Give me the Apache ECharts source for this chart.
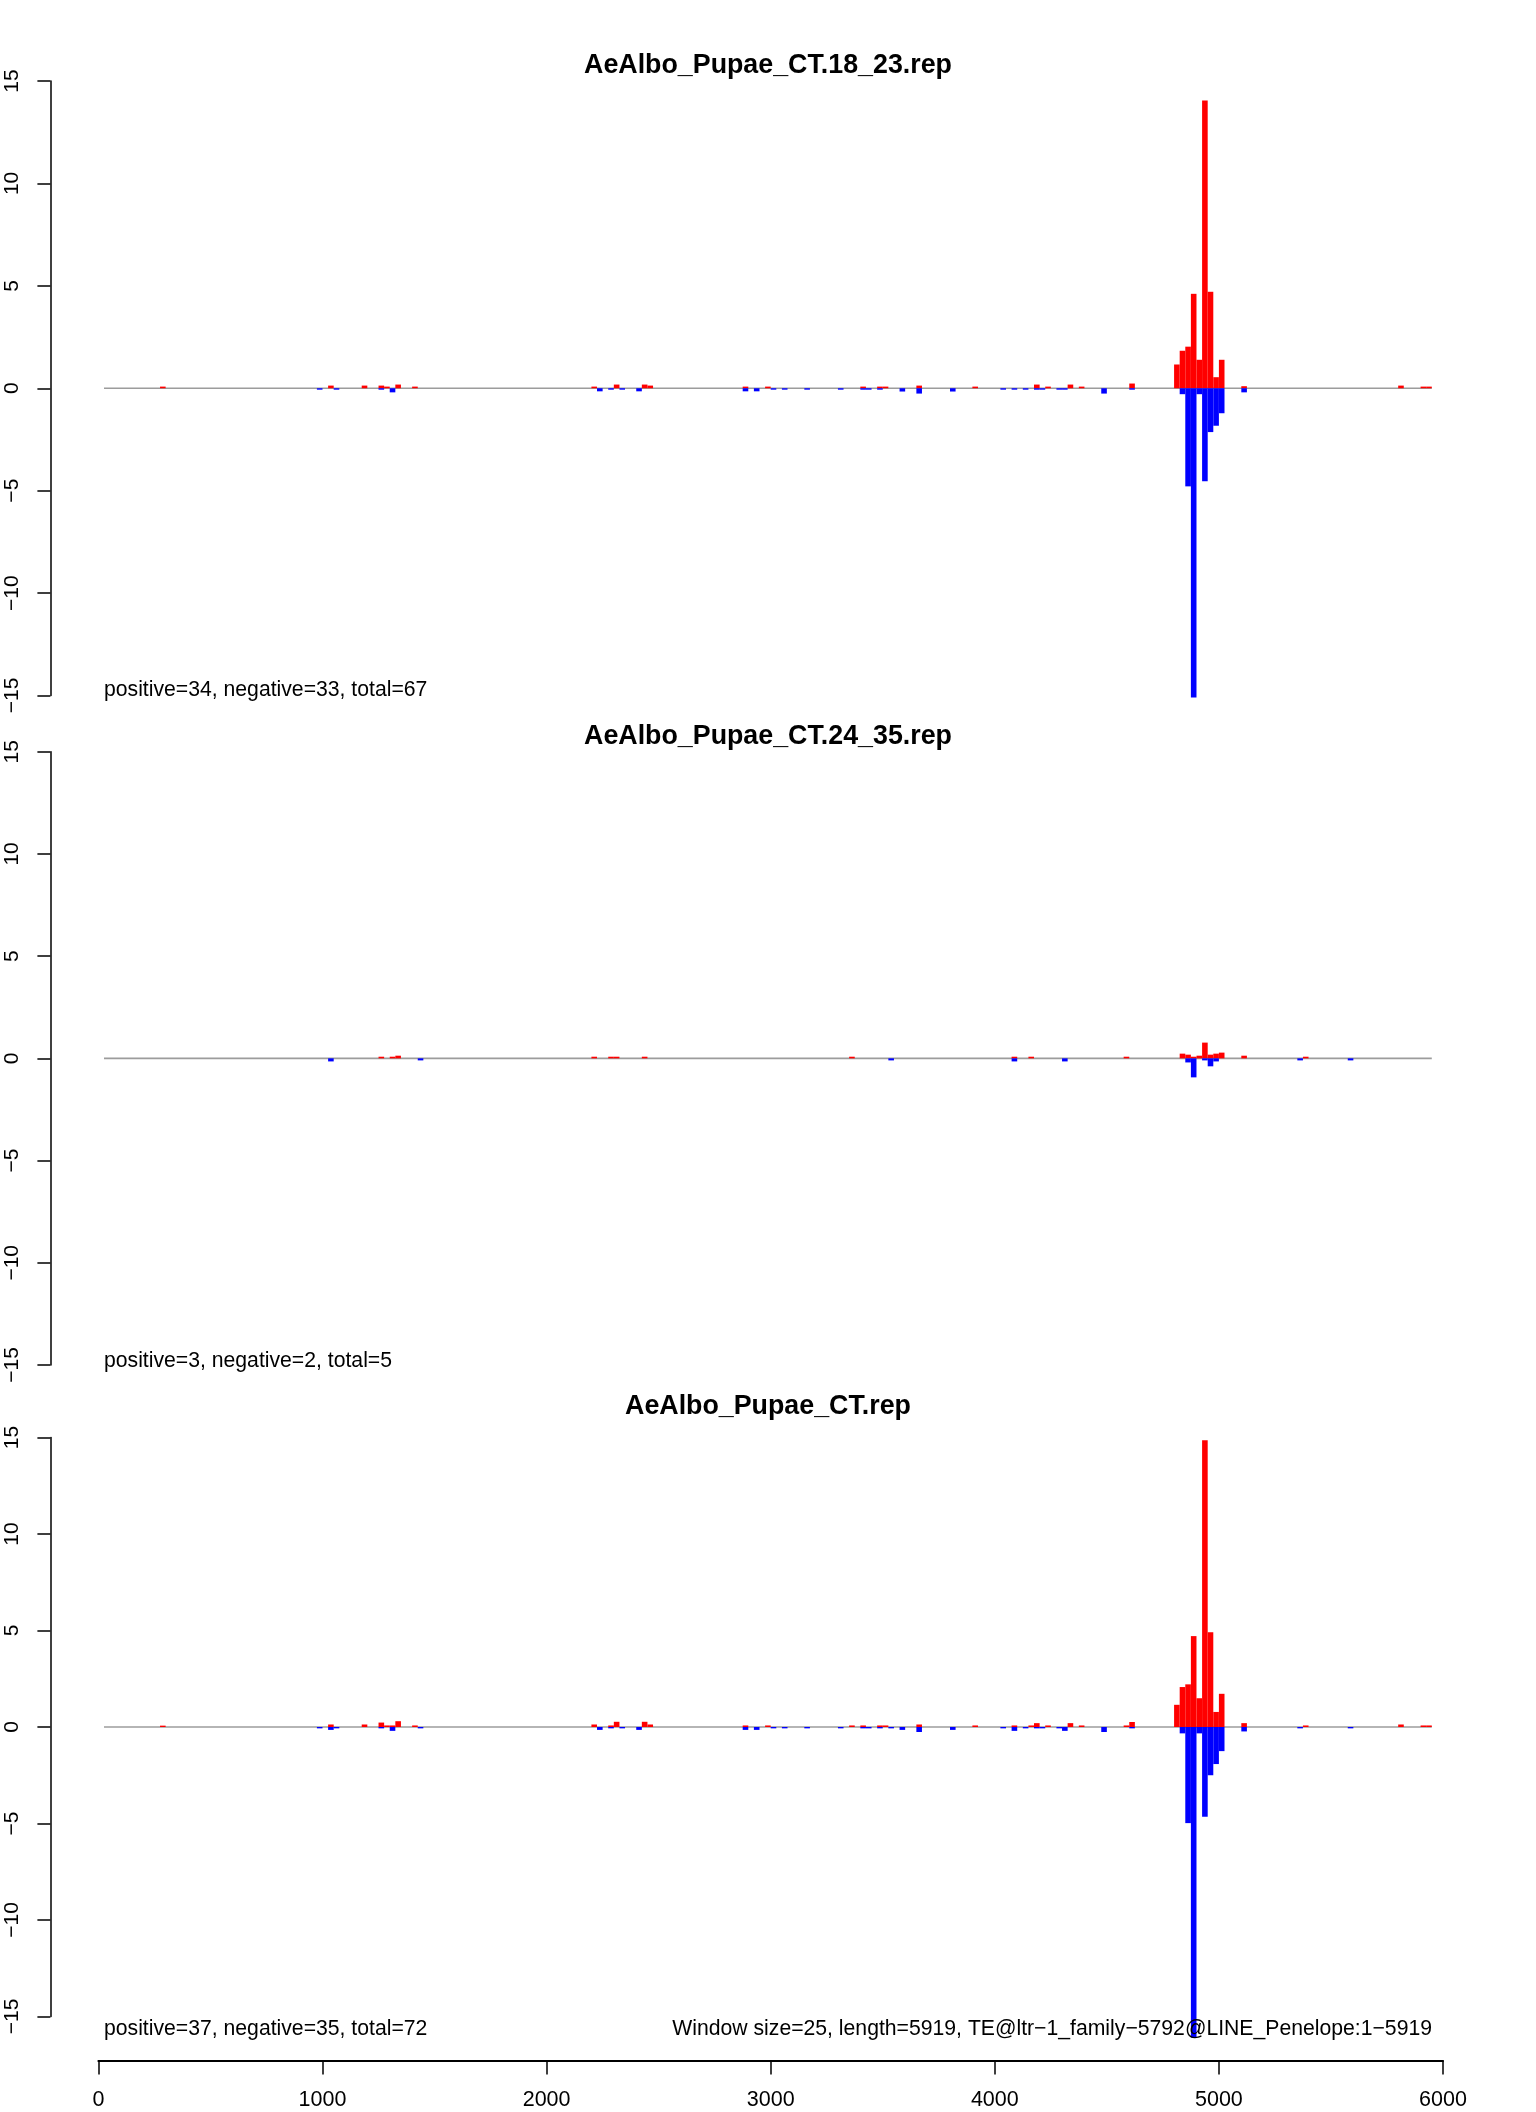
<!DOCTYPE html>
<html>
<head>
<meta charset="utf-8">
<script src="https://cdn.jsdelivr.net/npm/echarts@6/dist/echarts.min.js"></script>
<style>
html,body{margin:0;padding:0;background:#fff;}
#chart{width:1536px;height:2112px;}
</style>
</head>
<body>
<div id="chart"></div>
<script>
// ---- data (window size 25; bin start positions) ----
const BIN = 25;
const panelTitles = ['AeAlbo_Pupae_CT.18_23.rep', 'AeAlbo_Pupae_CT.24_35.rep', 'AeAlbo_Pupae_CT.rep'];
const panelNotes = ['positive=34, negative=33, total=67', 'positive=3, negative=2, total=5', 'positive=37, negative=35, total=72'];
const footNote = 'Window size=25, length=5919, TE@ltr\u22121_family\u22125792@LINE_Penelope:1\u22125919';
const xTicks = [0, 1000, 2000, 3000, 4000, 5000, 6000];
const yTicks = [-15, -10, -5, 0, 5, 10, 15];
const baseLine = [[25, 0], [5950, 0]];

const p1Pos = [[275,0.08],[1025,0.13],[1175,0.13],[1250,0.13],[1275,0.08],[1325,0.18],[1400,0.08],
  [2200,0.08],[2300,0.18],[2425,0.18],[2450,0.13],[2875,0.08],[2975,0.08],[3400,0.08],[3475,0.08],[3500,0.08],
  [3650,0.13],[3900,0.08],[4175,0.18],[4225,0.08],[4325,0.18],[4375,0.08],[4600,0.23],
  [4800,1.16],[4825,1.83],[4850,2.03],[4875,4.61],[4900,1.39],[4925,14.05],[4950,4.71],[4975,0.54],[5000,1.39],
  [5100,0.1],[5800,0.13],[5900,0.08],[5925,0.08]];
const p1Neg = [[975,-0.07],[1050,-0.07],[1250,-0.07],[1300,-0.2],[2225,-0.15],[2275,-0.07],[2325,-0.07],[2400,-0.15],
  [2875,-0.15],[2925,-0.15],[3000,-0.07],[3050,-0.07],[3150,-0.07],[3300,-0.07],[3400,-0.07],[3425,-0.07],[3475,-0.07],
  [3575,-0.16],[3650,-0.26],[3800,-0.16],[4025,-0.07],[4075,-0.07],[4125,-0.07],[4175,-0.07],[4200,-0.07],[4275,-0.07],
  [4300,-0.07],[4475,-0.26],[4600,-0.07],
  [4825,-0.29],[4850,-4.79],[4875,-15.1],[4900,-0.29],[4925,-4.54],[4950,-2.14],[4975,-1.83],[5000,-1.22],[5100,-0.2]];

const p2Pos = [[1250,0.08],[1300,0.08],[1325,0.13],[2200,0.08],[2275,0.08],[2300,0.08],[2425,0.08],[3350,0.08],
  [4075,0.08],[4150,0.08],[4575,0.08],
  [4825,0.23],[4850,0.18],[4875,0.08],[4900,0.13],[4925,0.77],[4950,0.18],[4975,0.23],[5000,0.28],
  [5100,0.13],[5375,0.08]];
const p2Neg = [[1025,-0.15],[1425,-0.1],[3525,-0.1],[4075,-0.15],[4300,-0.15],
  [4850,-0.2],[4875,-0.93],[4925,-0.1],[4950,-0.39],[4975,-0.15],[5350,-0.1],[5575,-0.1]];

const p3Pos = [[275,0.07],[1025,0.13],[1175,0.13],[1250,0.23],[1275,0.08],[1300,0.08],[1325,0.3],[1400,0.08],
  [2200,0.13],[2275,0.08],[2300,0.27],[2425,0.27],[2450,0.13],[2875,0.08],[2975,0.08],[3350,0.08],[3400,0.08],
  [3475,0.08],[3500,0.08],[3650,0.13],[3900,0.08],[4075,0.08],[4150,0.08],[4175,0.2],[4225,0.08],[4325,0.2],
  [4375,0.08],[4575,0.08],[4600,0.26],
  [4800,1.15],[4825,2.07],[4850,2.21],[4875,4.71],[4900,1.49],[4925,14.86],[4950,4.91],[4975,0.78],[5000,1.72],
  [5100,0.2],[5375,0.08],[5800,0.13],[5900,0.08],[5925,0.08]];
const p3Neg = [[975,-0.07],[1025,-0.15],[1050,-0.07],[1250,-0.07],[1300,-0.2],[1425,-0.07],[2225,-0.15],[2275,-0.07],
  [2325,-0.07],[2400,-0.15],[2875,-0.15],[2925,-0.15],[3000,-0.07],[3050,-0.07],[3150,-0.07],[3300,-0.07],[3400,-0.07],
  [3425,-0.07],[3475,-0.07],[3525,-0.07],[3575,-0.15],[3650,-0.26],[3800,-0.15],[4025,-0.07],[4075,-0.2],[4125,-0.07],
  [4175,-0.07],[4200,-0.07],[4275,-0.07],[4300,-0.2],[4475,-0.26],[4600,-0.07],
  [4825,-0.33],[4850,-4.98],[4875,-16.1],[4900,-0.33],[4925,-4.65],[4950,-2.5],[4975,-1.92],[5000,-1.25],[5100,-0.23],
  [5350,-0.07],[5575,-0.07]];

const posData = [p1Pos, p2Pos, p3Pos];
const negData = [p1Neg, p2Neg, p3Neg];

// ---- layout ----
const FONT = '"Liberation Sans", Arial, Helvetica, sans-serif';
const gridLeft = 98.4, gridWidth = 1344.6;
const grids = [
  {left: gridLeft, top: 81, width: gridWidth, height: 614.5},
  {left: gridLeft, top: 751.7, width: gridWidth, height: 613.3},
  {left: gridLeft, top: 1437.5, width: gridWidth, height: 579}
];
const titleY = [65.5, 736.5, 1406.5];
const noteY = [690, 1361, 2029];

function barRender(color) {
  return function (params, api) {
    const x0 = api.value(0), v = api.value(1);
    const a = api.coord([x0, 0]);
    const b = api.coord([x0 + BIN, v]);
    return {
      type: 'rect',
      shape: {x: a[0], y: Math.min(a[1], b[1]), width: b[0] - a[0], height: Math.abs(b[1] - a[1])},
      style: {fill: color}
    };
  };
}

const xAxes = [], yAxes = [], series = [], graphics = [];
for (let i = 0; i < 3; i++) {
  const last = i === 2;
  xAxes.push({
    gridIndex: i, type: 'value', min: xTicks[0], max: xTicks[xTicks.length - 1], interval: 1000,
    show: last, position: 'bottom', offset: 44,
    axisLine: {show: true, onZero: false, lineStyle: {color: '#000', width: 2}},
    axisTick: {show: true, length: 14, lineStyle: {color: '#000', width: 1.5}},
    axisLabel: {show: true, fontFamily: FONT, fontSize: 21.5, color: '#000', margin: 29,
      formatter: v => String(v)},
    splitLine: {show: false}
  });
  yAxes.push({
    gridIndex: i, type: 'value', min: yTicks[0], max: yTicks[yTicks.length - 1], interval: 5,
    position: 'left', offset: 48,
    axisLine: {show: true, onZero: false, lineStyle: {color: '#000', width: 1.5}},
    axisTick: {show: true, length: 13, lineStyle: {color: '#000', width: 1.5}},
    axisLabel: {show: true, rotate: 90, fontFamily: FONT, fontSize: 21, color: '#000', margin: 28,
      formatter: v => String(v).replace('-', '\u2212')},
    splitLine: {show: false}
  });
  series.push({
    type: 'line', xAxisIndex: i, yAxisIndex: i, data: baseLine, symbol: 'none', silent: true,
    lineStyle: {color: '#9c9c9c', width: 1.6}, z: 1, animation: false
  });
  series.push({
    type: 'custom', xAxisIndex: i, yAxisIndex: i, data: posData[i], renderItem: barRender('#ff0000'),
    clip: false, z: 2, animation: false
  });
  series.push({
    type: 'custom', xAxisIndex: i, yAxisIndex: i, data: negData[i], renderItem: barRender('#0000ff'),
    clip: false, z: 3, animation: false
  });
  graphics.push({
    type: 'text', x: 768, y: titleY[i],
    style: {text: panelTitles[i], font: 'bold 26.8px ' + FONT, fill: '#000', textAlign: 'center', textVerticalAlign: 'middle'}
  });
  graphics.push({
    type: 'text', x: 104, y: noteY[i],
    style: {text: panelNotes[i], font: '21.2px ' + FONT, fill: '#000', textAlign: 'left', textVerticalAlign: 'middle'}
  });
}
graphics.push({
  type: 'text', x: 1432, y: noteY[2], z: 10,
  style: {text: footNote, font: '21.2px ' + FONT, fill: '#000', textAlign: 'right', textVerticalAlign: 'middle'}
});

const chart = echarts.init(document.getElementById('chart'), null, {renderer: 'canvas'});
chart.setOption({
  backgroundColor: '#ffffff',
  animation: false,
  grid: grids,
  xAxis: xAxes,
  yAxis: yAxes,
  series: series,
  graphic: graphics
});
</script>
</body>
</html>
